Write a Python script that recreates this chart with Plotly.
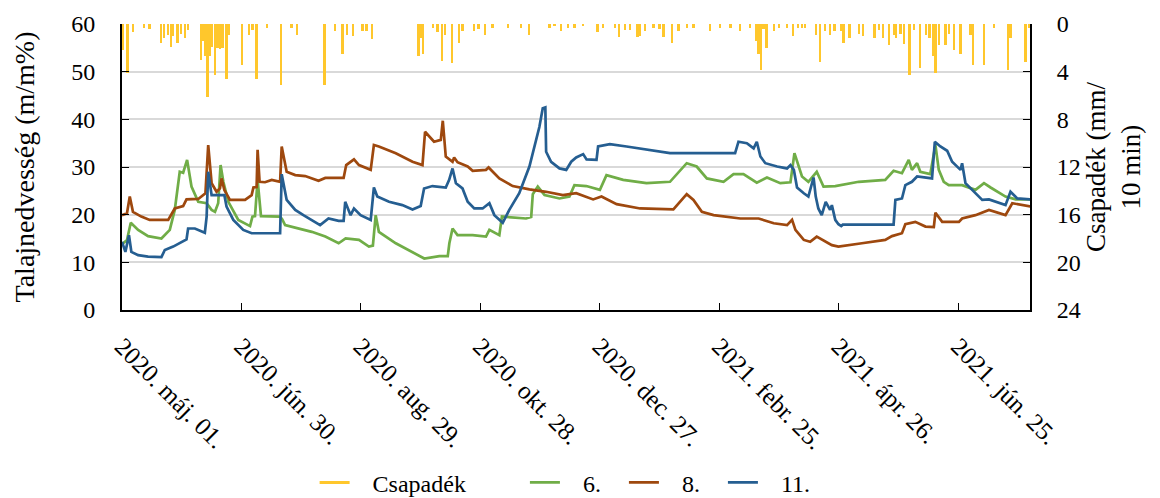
import pandas as pd
import plotly.graph_objects as go

START = "2020-05-01"

# Precipitation (mm / 10 min): day offset from START, value
rain_day = [0.3, 2.7, 5.5, 11.1, 13.9, 19.5, 21.1, 23.2, 24.5, 25.7, 27.8, 29.6, 31.6, 33.2,
            39.6, 40.8, 41.9, 42.9, 44.2, 45.3, 46.7, 48.0, 49.2, 50.4, 52.5, 53.7,
            60.4, 63.8, 65.5, 67.6, 72.7, 79.9, 85.2, 87.8, 101.7, 107.1, 110.8,
            113.1, 116.0, 120.7, 122.7, 125.7, 148.9, 150.0, 151.2, 156.2, 158.4,
            160.6, 162.3, 165.7, 169.3, 171.0, 176.9, 179.1, 182.4, 186.1, 193.7,
            200.4, 204.3, 214.6, 217.2, 220.5, 223.9, 227.2, 231.6, 238.7, 241.7,
            247.6, 249.7, 252.6, 255.1, 258.8, 260.2, 262.7, 266.9, 269.9, 271.9,
            276.3, 279.4, 283.6, 287.0, 295.4, 300.4, 305.5, 310.5, 315.5, 318.6,
            319.7, 320.9, 322.2, 323.6, 327.3, 329.8, 334.0, 337.0, 339.4, 341.5,
            343.0, 348.4, 350.6, 353.1, 355.6, 357.8, 361.2, 362.4, 365.4, 370.2,
            372.1, 378.0, 380.3, 382.3, 385.3, 387.6, 388.7, 390.9, 392.6, 395.4,
            397.6, 400.9, 403.8, 405.5, 407.2, 408.5, 410.2, 413.5, 415.2, 417.7,
            421.1, 426.1, 427.5, 432.9, 437.9, 445.1, 446.3, 453.8, 455.5]
rain_val = [2.2, 4.1, 0.7, 0.3, 0.4, 1.6, 1.2, 0.9, 1.9, 1.0, 1.6, 0.8, 1.2, 0.5,
            3.0, 1.4, 2.7, 6.1, 2.7, 1.9, 4.3, 2.0, 2.1, 2.0, 4.6, 0.9,
            3.4, 0.9, 0.5, 4.6, 0.3, 5.1, 0.3, 0.9, 5.1, 0.6, 2.5,
            0.9, 1.0, 0.6, 0.6, 1.3, 2.7, 1.2, 2.5, 0.3, 0.7,
            3.1, 0.9, 3.3, 1.6, 0.6, 0.6, 0.4, 0.9, 0.3, 0.3,
            0.3, 0.9, 0.3, 0.2, 0.6, 0.3, 0.3, 0.2, 0.7, 0.3,
            0.3, 1.1, 0.5, 0.5, 1.1, 1.0, 0.6, 0.3, 0.4, 1.1,
            1.6, 0.6, 0.3, 0.3, 0.6, 0.3, 0.3, 0.6, 0.3, 1.4,
            2.5, 3.9, 0.4, 2.0, 0.6, 0.3, 0.3, 1.0, 0.3, 0.3,
            0.3, 0.9, 3.2, 0.6, 0.9, 0.6, 0.6, 1.6, 1.2, 0.8,
            1.0, 1.2, 0.5, 1.2, 1.8, 0.9, 1.2, 0.8, 1.7, 4.3,
            0.5, 3.7, 0.9, 1.2, 2.7, 4.1, 1.8, 1.8, 0.8, 2.2,
            2.5, 0.9, 3.4, 3.4, 0.3, 3.9, 1.2, 3.2, 0.3]

# Soil moisture series "6." (m/m%)
s6_day = [0, 2.5, 4.4, 8.1, 13.1, 19.8, 24.0, 26.5, 29.0, 30.7, 32.7, 34.9, 38.3, 42.5,
          45.0, 46.7, 48.3, 49.5, 50.9, 53.4, 58.4, 64.3, 65.5, 66.8, 68.1, 69.8,
          79.4, 80.5, 81.9, 88.6, 95.3, 102.1, 108.8, 112.3, 119.0, 124.0, 126.0,
          127.4, 129.0, 137.5, 145.9, 151.8, 159.4, 163.6, 164.4, 166.0, 168.5,
          176.1, 182.8, 184.5, 189.5, 190.8, 202.9, 205.5, 206.3, 208.8, 212.2,
          219.7, 224.7, 227.2, 233.2, 240.0, 243.3, 251.7, 263.4, 275.2, 283.6,
          288.6, 293.7, 302.1, 307.1, 312.1, 318.8, 323.9, 330.6, 335.7, 337.7,
          339.8, 341.5, 344.7, 348.9, 352.3, 358.2, 370.0, 383.3, 387.5, 391.7,
          395.1, 396.7, 399.3, 400.9, 405.9, 408.5, 410.2, 412.7, 415.2, 421.9,
          428.6, 432.9, 436.2, 443.7, 448.8, 456.5]
s6_val = [13.8, 14.7, 18.3, 16.8, 15.5, 15.0, 16.8, 21.0, 29.0, 28.8, 31.5, 25.9, 22.7, 22.4,
          21.0, 20.6, 22.4, 30.4, 26.9, 22.7, 18.9, 17.6, 19.6, 19.7, 27.3, 19.7,
          19.6, 19.0, 17.8, 17.1, 16.4, 15.4, 14.0, 15.0, 14.7, 13.3, 13.5,
          19.9, 16.4, 14.0, 12.2, 10.8, 11.3, 11.3, 14.0, 17.1, 15.7,
          15.7, 15.4, 16.8, 15.7, 19.6, 19.2, 19.5, 24.3, 25.9, 24.1,
          23.4, 23.8, 26.2, 26.0, 25.2, 28.3, 27.3, 26.6, 26.9, 30.8,
          30.1, 27.6, 26.9, 28.5, 28.5, 26.7, 27.8, 26.6, 26.8, 32.9,
          30.1, 28.0, 26.9, 29.0, 25.9, 26.0, 26.9, 27.3, 29.2, 28.7,
          31.5, 29.4, 30.8, 29.0, 28.5, 34.6, 29.4, 26.9, 26.2, 26.2,
          25.2, 26.6, 25.7, 23.8, 23.2, 23.2]

# Soil moisture series "8."
s8_day = [0, 2.5, 3.9, 5.5, 9.7, 13.9, 23.2, 26.5, 30.7, 32.4, 38.3, 41.9, 43.3, 45.0,
          47.5, 49.2, 50.0, 51.4, 54.2, 61.8, 65.1, 66.0, 67.6, 68.1, 69.1, 71.8,
          75.2, 79.4, 80.2, 82.7, 87.0, 92.0, 98.7, 102.1, 111.3, 112.6, 116.5,
          119.0, 124.9, 126.5, 129.0, 137.5, 145.9, 150.9, 152.2, 156.7, 160.1,
          161.1, 162.6, 166.0, 166.8, 168.5, 173.6, 176.1, 182.8, 184.1, 189.5,
          196.2, 204.6, 213.0, 221.4, 228.1, 236.6, 240.8, 248.4, 260.2, 276.9,
          280.3, 283.6, 287.0, 291.2, 297.1, 310.5, 319.7, 327.3, 334.0, 336.5,
          338.2, 342.4, 345.6, 348.9, 356.5, 359.8, 371.6, 383.3, 386.7, 391.7,
          393.4, 398.4, 403.5, 407.7, 408.5, 411.9, 420.3, 421.9, 428.6, 435.4,
          443.7, 447.1, 456.5]
s8_val = [19.9, 20.3, 23.8, 20.6, 19.6, 18.9, 18.9, 21.3, 21.8, 23.2, 23.3, 24.5, 34.6, 26.6,
          24.8, 25.5, 27.6, 25.2, 23.1, 23.1, 24.1, 25.7, 25.8, 33.6, 26.9, 26.8,
          27.3, 26.9, 34.3, 29.0, 28.3, 28.1, 27.1, 27.7, 27.7, 30.4, 31.6,
          30.4, 29.4, 34.6, 34.3, 32.9, 31.1, 30.4, 37.4, 35.3, 35.7,
          39.7, 32.2, 31.1, 32.0, 31.0, 30.1, 29.2, 29.4, 29.9, 27.6,
          26.0, 25.3, 24.8, 24.1, 24.5, 23.2, 23.8, 22.2, 21.3, 21.1,
          22.7, 24.3, 23.1, 20.6, 19.9, 19.2, 19.2, 18.2, 17.8, 18.9,
          16.8, 14.7, 14.3, 15.4, 13.6, 13.3, 14.0, 14.7, 15.5, 16.1,
          18.0, 18.5, 17.5, 17.4, 20.4, 18.5, 18.5, 19.2, 19.9, 21.0,
          19.9, 22.4, 21.7]

# Soil moisture series "11."
s11_day = [0, 1.7, 3.5, 4.7, 8.1, 13.1, 19.8, 21.5, 25.7, 29.9, 32.4, 33.2, 36.6, 41.6,
           42.5, 43.3, 45.0, 47.5, 51.4, 52.5, 55.9, 60.9, 65.1, 79.4, 80.2, 82.7,
           87.0, 91.1, 95.3, 99.5, 103.7, 108.8, 111.3, 112.1, 114.8, 116.5, 119.8,
           124.9, 126.5, 128.2, 134.1, 140.8, 145.9, 150.0, 151.7, 155.9, 162.6,
           164.3, 166.0, 167.7, 171.0, 173.6, 176.9, 181.1, 184.5, 187.0, 191.2,
           194.5, 199.5, 204.6, 209.6, 211.3, 212.6, 213.0, 215.5, 219.7, 223.1,
           225.6, 228.1, 231.6, 233.3, 238.3, 239.1, 245.0, 253.4, 263.4, 275.2,
           307.9, 309.6, 313.8, 317.2, 318.8, 320.6, 323.1, 329.0, 334.0, 335.7,
           337.4, 339.0, 342.4, 344.7, 347.3, 348.4, 349.7, 351.4, 353.4, 355.6,
           356.5, 358.2, 359.8, 361.2, 362.0, 387.5, 388.4, 391.7, 393.4, 396.7,
           399.3, 406.8, 408.2, 411.0, 414.4, 416.9, 421.1, 421.9, 423.6, 427.0,
           432.0, 435.4, 443.7, 446.2, 449.6, 456.5]
s11_val = [14.3, 12.2, 15.7, 12.2, 11.5, 11.2, 11.1, 12.6, 13.3, 14.3, 14.8, 17.1, 17.1, 16.2,
           19.6, 29.0, 24.1, 24.1, 24.1, 21.7, 18.9, 16.8, 16.1, 16.1, 28.5, 23.1,
           21.0, 19.9, 18.9, 17.8, 19.2, 18.7, 18.7, 22.7, 19.9, 21.3, 19.9,
           18.9, 25.7, 23.8, 22.7, 22.0, 21.1, 21.8, 25.5, 26.0, 25.7,
           27.3, 29.7, 26.6, 25.5, 22.7, 21.3, 21.3, 22.4, 19.9, 18.3,
           21.0, 24.5, 30.1, 38.4, 42.3, 42.5, 33.2, 31.1, 29.7, 29.4,
           31.1, 32.0, 32.7, 31.6, 31.5, 34.3, 34.8, 34.3, 33.6, 32.9,
           32.9, 35.3, 35.0, 33.9, 35.3, 32.2, 30.8, 30.1, 29.7, 30.4,
           29.4, 25.7, 24.5, 23.8, 27.8, 23.8, 21.3, 19.9, 22.7, 21.0,
           22.0, 18.9, 18.0, 17.6, 17.9, 17.9, 23.1, 23.4, 26.2, 26.9,
           28.0, 27.6, 35.3, 34.3, 33.4, 31.1, 29.4, 30.8, 26.6, 25.2,
           23.1, 23.2, 22.0, 24.8, 23.4, 23.2]

tick_dates = ["2020-05-01", "2020-06-30", "2020-08-29", "2020-10-28",
              "2020-12-27", "2021-02-25", "2021-04-26", "2021-06-25"]
tick_text = ["2020. máj. 01.", "2020. jún. 30.", "2020. aug. 29.", "2020. okt. 28.",
             "2020. dec. 27.", "2021. febr. 25.", "2021. ápr. 26.", "2021. jún. 25."]


def to_dates(days):
    return list(pd.Timestamp(START) + pd.to_timedelta(days, unit="D"))


FONT = "Liberation Serif"
C_RAIN = "#FFC72C"
C6 = "#70AD47"
C8 = "#9E480E"
C11 = "#255E91"
NB = "\u00a0"
LW = 2.7

fig = go.Figure()

fig.add_trace(go.Bar(x=to_dates(rain_day), y=rain_val, yaxis="y2", marker_color=C_RAIN,
                     marker_line_width=0, width=1.2 * 86400000, showlegend=False,
                     name="Csapadék"))
fig.add_trace(go.Scatter(x=[None], y=[None], yaxis="y2", mode="lines",
                         name=NB * 3 + "Csapadék" + NB * 9,
                         line=dict(color=C_RAIN, width=3)))
fig.add_trace(go.Scatter(x=to_dates(s6_day), y=s6_val, mode="lines",
                         name=NB * 3 + "6." + NB * 3, line=dict(color=C6, width=LW)))
fig.add_trace(go.Scatter(x=to_dates(s8_day), y=s8_val, mode="lines",
                         name=NB * 3 + "8." + NB * 3, line=dict(color=C8, width=LW)))
fig.add_trace(go.Scatter(x=to_dates(s11_day), y=s11_val, mode="lines",
                         name=NB * 3 + "11.", line=dict(color=C11, width=LW)))

# The page body adds an 8px offset; the figure is sized so the plot area
# lands at x 122..1030, y 24..310 in the 1160x498 window.
fig.update_layout(
    width=1152, height=490,
    margin=dict(l=114, r=130, t=16, b=188),
    paper_bgcolor="white", plot_bgcolor="white",
    font=dict(family=FONT, size=24, color="black"),
    bargap=0,
    xaxis=dict(
        type="date", range=["2020-05-01", "2021-07-31"], automargin=False,
        tickmode="array", tickvals=tick_dates, ticktext=tick_text,
        tickangle=45, ticks="inside", ticklen=7, tickcolor="black",
        tickfont=dict(size=25), ticklabelstandoff=10,
        showline=True, linecolor="black", linewidth=2,
        showgrid=False, zeroline=False,
    ),
    yaxis=dict(
        range=[0, 60], dtick=10, ticks="inside", ticklen=7, tickcolor="black",
        showline=True, linecolor="black", linewidth=2, automargin=False,
        showgrid=True, gridcolor="#D9D9D9", gridwidth=1.5, zeroline=False,
        ticklabelstandoff=20,
        title=dict(text="Talajnedvesség (m/m%)", standoff=28, font=dict(size=28)),
    ),
    yaxis2=dict(
        overlaying="y", side="right", range=[24, 0], dtick=4, automargin=False,
        ticks="inside", ticklen=7, tickcolor="black",
        showline=True, linecolor="black", linewidth=2,
        showgrid=False, zeroline=False, ticklabelstandoff=20,
        title=dict(text="Csapadék (mm/<br>10 min)", standoff=2, font=dict(size=27)),
    ),
    legend=dict(orientation="h", x=0.488, xanchor="center",
                yref="container", y=0.031, yanchor="middle",
                font=dict(size=24), traceorder="normal"),
)

fig.write_html("out.html")
